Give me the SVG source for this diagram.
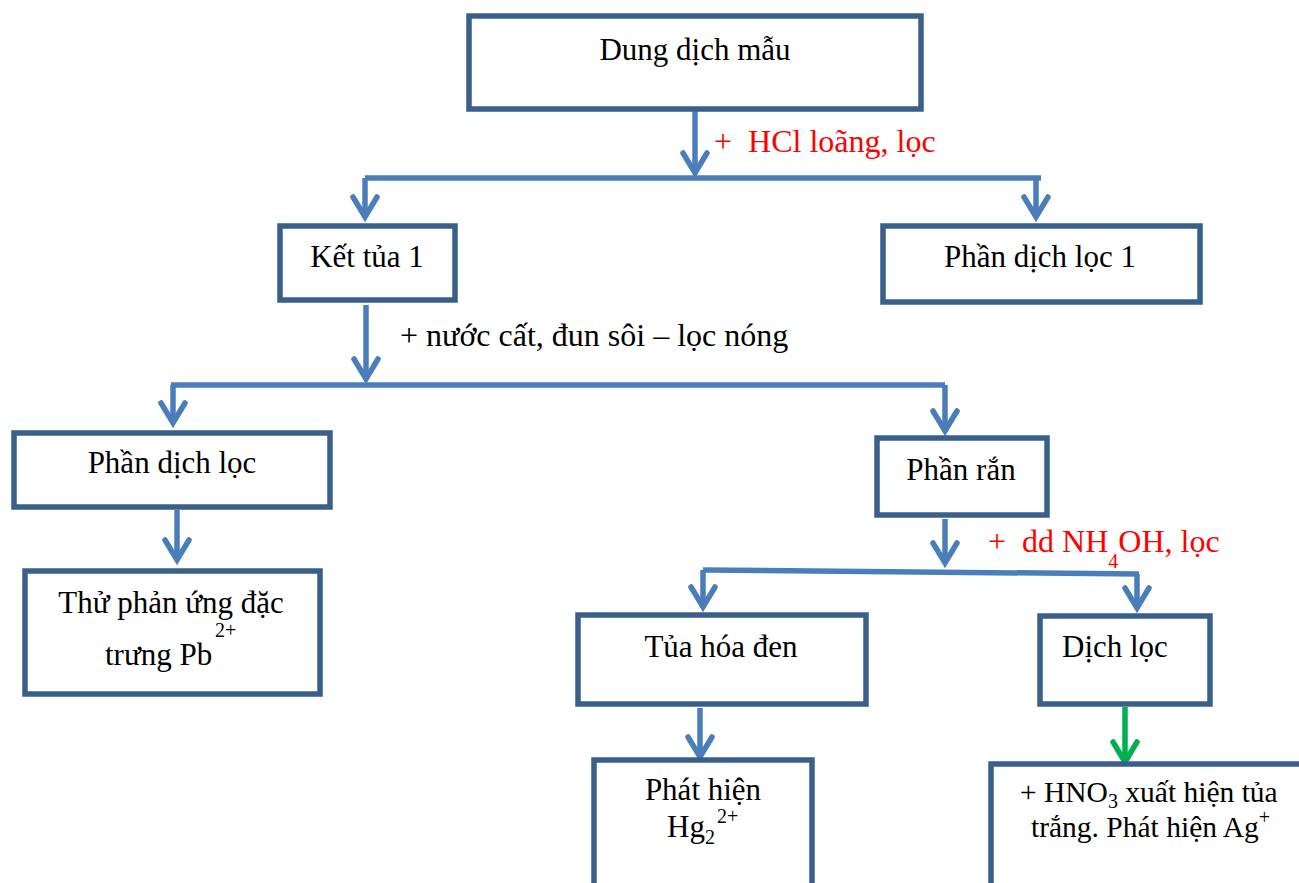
<svg xmlns="http://www.w3.org/2000/svg" width="1299" height="883" viewBox="0 0 1299 883">
<style>
.box{fill:#fff;stroke:#3A5F8B;stroke-width:5.5}
.t{font-family:"Liberation Serif","Times New Roman",serif;font-size:31px;fill:#000}
.lb{font-size:32px}
.c{text-anchor:middle}
.red{fill:#FF0000}
.sm{font-size:20px}
.ln{fill:none;stroke:#4A7EBB;stroke-width:5.5}
.arr{marker-end:url(#ah)}
.g{fill:none;stroke:#00B050;stroke-width:5.5;marker-end:url(#gh)}
</style>
<defs>
<marker id="ah" markerUnits="userSpaceOnUse" viewBox="-30 -20 40 40" markerWidth="40" markerHeight="40" refX="0" refY="0" orient="auto" overflow="visible">
<path d="M-20,-12 L0,0 L-20,12" fill="none" stroke="#4A7EBB" stroke-width="5.5" stroke-linecap="round"/>
</marker>
<marker id="gh" markerUnits="userSpaceOnUse" viewBox="-30 -20 40 40" markerWidth="40" markerHeight="40" refX="0" refY="0" orient="auto" overflow="visible">
<path d="M-20,-12 L0,0 L-20,12" fill="none" stroke="#00B050" stroke-width="5.5" stroke-linecap="round"/>
</marker>
</defs>
<rect width="1299" height="883" fill="#fff"/>
<g id="connectors">
<path class="ln arr" d="M695,111 V173"/>
<path class="ln" d="M365,178 H1041"/>
<path class="ln arr" d="M365,178 V217"/>
<path class="ln arr" d="M1036,178 V217"/>
<path class="ln arr" d="M366,305 V379"/>
<path class="ln" d="M171,385 H945"/>
<path class="ln arr" d="M173,385 V423"/>
<path class="ln arr" d="M945,385 V431"/>
<path class="ln arr" d="M177,510 V560"/>
<path class="ln arr" d="M945,519 V563"/>
<path class="ln" d="M703,570 L1139,574"/>
<path class="ln arr" d="M703,570 V607"/>
<path class="ln arr" d="M1137,574 V608"/>
<path class="ln arr" d="M700,708 V757"/>
<path class="g" d="M1125,707 V762"/>
<text class="t lb red" x="714" y="152" xml:space="preserve">+  HCl loãng, lọc</text>
<text class="t lb" x="400" y="346">+ nước cất, đun sôi – lọc nóng</text>
<text class="t lb red" x="988" y="552" xml:space="preserve">+  dd NH<tspan class="sm" dy="16">4</tspan><tspan dy="-16">OH, lọc</tspan></text>
</g>
<g id="n-mau">
<rect class="box" x="469" y="16" width="452" height="93"/>
<text class="t c" x="695" y="60">Dung dịch mẫu</text>
</g>
<g id="n-kettua1">
<rect class="box" x="280" y="226" width="175" height="74"/>
<text class="t c" x="367" y="267">Kết tủa 1</text>
</g>
<g id="n-dichloc1">
<rect class="box" x="883" y="226" width="317" height="76"/>
<text class="t c" x="1040" y="267">Phần dịch lọc 1</text>
</g>
<g id="n-dichloc">
<rect class="box" x="14" y="433" width="316" height="74"/>
<text class="t c" x="172" y="473">Phần dịch lọc</text>
</g>
<g id="n-ran">
<rect class="box" x="877" y="438" width="170" height="77"/>
<text class="t c" x="961" y="480">Phần rắn</text>
</g>
<g id="n-pb">
<rect class="box" x="25" y="571" width="295" height="123"/>
<text class="t c" x="171" y="613">Thử phản ứng đặc</text>
<text class="t" x="105" y="665">trưng Pb</text>
<text class="t sm" x="215" y="637">2+</text>
</g>
<g id="n-tuaden">
<rect class="box" x="578" y="615" width="288" height="89"/>
<text class="t c" x="721" y="657">Tủa hóa đen</text>
</g>
<g id="n-dichloc2">
<rect class="box" x="1040" y="616" width="170" height="88"/>
<text class="t" x="1062" y="657">Dịch lọc</text>
</g>
<g id="n-hg">
<rect class="box" x="594" y="760" width="218" height="160"/>
<text class="t c" x="703" y="800">Phát hiện</text>
<text class="t" x="667" y="837">Hg<tspan class="sm" dy="7">2</tspan></text>
<text class="t sm" x="717" y="823">2+</text>
</g>
<g id="n-ag">
<rect class="box" x="991" y="764" width="340" height="160"/>
<text class="t" x="1020" y="802" style="font-size:29.5px">+ HNO<tspan class="sm" dy="6">3</tspan><tspan dy="-6"> xuất hiện tủa</tspan></text>
<text class="t" x="1031" y="837" style="font-size:29.5px">trắng. Phát hiện Ag<tspan class="sm" dy="-13">+</tspan></text>
</g>
</svg>
